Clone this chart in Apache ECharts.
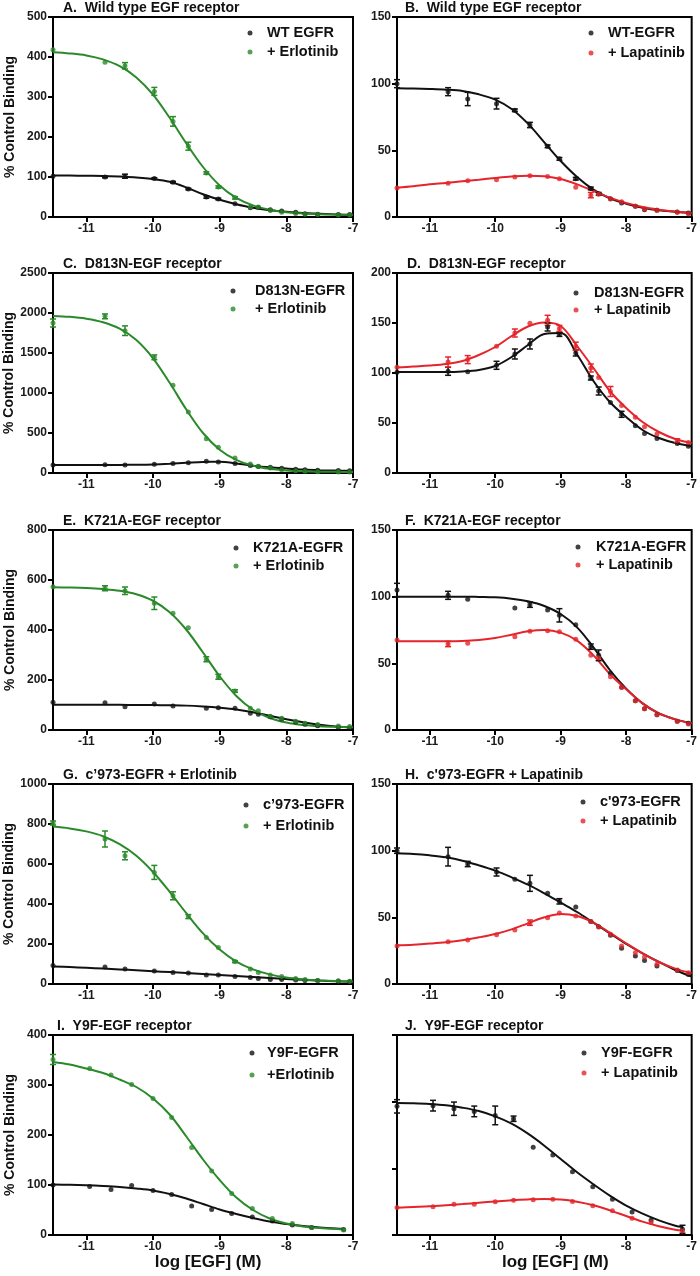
<!DOCTYPE html>
<html><head><meta charset="utf-8">
<script src="https://cdn.jsdelivr.net/npm/echarts@6/dist/echarts.min.js"></script>
<style>html,body{margin:0;padding:0;background:#fff}#c{width:700px;height:1276px}</style>
</head><body><div id="c"></div>
<script>
// ---------- DATA ----------
const X_TICKS = [-11, -10, -9, -8, -7];
const X_PTS = [-11.5, -10.72, -10.42, -9.98, -9.7, -9.47, -9.2, -9.02, -8.77, -8.54, -8.42, -8.24, -8.07, -7.86, -7.72, -7.53, -7.22, -7.05];
const X_PTS_Y9F = [-11.5, -10.95, -10.63, -10.32, -10.0, -9.72, -9.42, -9.12, -8.82, -8.51, -8.21, -7.91, -7.62, -7.14];
const X_FIT = [-11.5, -11.25, -11, -10.75, -10.5, -10.25, -10, -9.75, -9.5, -9.25, -9, -8.75, -8.5, -8.25, -8, -7.75, -7.5, -7.25, -7];
const X_FIT_Y9F = [-11.5, -11.25, -11, -10.75, -10.5, -10.25, -10, -9.75, -9.5, -9.25, -9, -8.75, -8.5, -8.25, -8, -7.75, -7.5, -7.25, -7.14];

const A_ctrl = [102,100,102,96,87,70,50,45,33,23,24,18,15,12,8,7,6,6];
const A_ctrlErr = [0,2,5,2,2,2,3,2,0,0,0,0,0,0,0,0,0,0];
const A_drug = [418,387,378,314,239,177,110,75,48,25,25,16,12,9,7,6,5,5];
const A_drugErr = [0,0,8,10,12,10,3,3,3,0,0,0,0,0,0,0,0,0];
const A_ctrlFit = [104,103.5,103,102.5,101,99,95,88,74,57,43,32,23,17,13,10,8,6,5];
const A_drugFit = [412,409,404,394,377,349,306,248,184,125,79,48,29,18,12,9,6.9,6,5.5];

const B_ctrl = [100,94,88.5,85,80,69,53,43.6,28.7,21.4,17.4,13.7,10.5,8,5.5,5,3.7,3];
const B_ctrlErr = [3,3,5,4,1,2,1,1,1,1,1,0,0,0,0,0,0,0];
const B_drug = [21.7,25.4,27.2,28,30,31,30.4,28.7,22.4,16.4,17,13.5,11.5,8,6,5,3.5,2.5];
const B_drugErr = [0,0,0,0,0,0,0,0,0,2,0,0,0,0,0,0,0,0];
const B_ctrlFit = [96.5,96.3,96,95.5,94.5,92,88,81,70,56,42,30,20.5,14,10,7,5,4,3];
const B_drugFit = [22,23,24.5,25.5,26.8,28,29.3,30.4,31,30.5,28.5,24.5,19.5,14.5,10.5,7.5,5.5,4,3];

const C_ctrl = [101,102,101,108,119,129,146,139,120,95,82,71,59,47,40,35,30,27];
const C_ctrlErr = [0,0,0,0,0,0,0,0,0,0,0,0,0,0,0,0,0,0];
const C_drug = [1875,1958,1779,1446,1096,762,429,321,187,112,83,62,42,29,21,17,12,12];
const C_drugErr = [50,30,60,30,0,0,0,0,0,0,0,0,0,0,0,0,0,0];
const C_ctrlFit = [101,101,101,101,101.5,103,107,116,128,139,140,118.5,92,71,56,43,35,30,27];
const C_drugFit = [1963,1952,1929,1885,1804,1661,1434,1128,793,500,291,163,91,52,32,22,17,14.5,13];

const D_ctrl = [100.7,101.7,101.3,107.7,119,129,146,138.6,120,95,82,70.5,58.7,47.3,39.6,34.6,29.5,26.8];
const D_ctrlErr = [0,4,0,4,5,5,4,2,3,2,4,0,3,0,0,0,0,0];
const D_drug = [105.7,111,113.4,126.8,140,149.7,152.7,144.6,126.8,105,95.6,81.5,67.4,55.7,46.3,39,32.2,30.5];
const D_drugErr = [0,5,4,0,4,0,5,3,4,4,0,5,0,0,0,0,2,0];
const D_ctrlFit = [101,101,101,101,101.5,103,107,116,128,139,140,118.5,92,71,56,43,35,30,27];
const D_drugFit = [105.5,106.5,107.5,109,112,118,126,137,146.5,150.5,147,127,105,82,65,51,41,34,30];

const E_ctrl = [111,109,93,104,96,null,87,89,87,67,63,53,44,32,23,17,11,8];
const E_ctrlErr = [0,0,0,0,0,0,0,0,0,0,0,0,0,0,0,0,0,0];
const E_drug = [573,567,557,507,467,409,283,213,156,87,77,55,47,35,27,22,16,14];
const E_drugErr = [0,10,15,25,0,0,10,10,5,0,0,0,0,0,0,0,0,0];
const E_ctrlFit = [101,101,101,100.8,100.6,100.3,99.8,99,97.5,94,89,82,71,57,43,31,21,14,10];
const E_drugFit = [571,570,568,564,557,543,517,471,401,310,215,136,81,48,30,20,15,12.5,11];

const F_ctrl = [105,101,98,null,91.5,94,90,86,79,62.5,56,42.5,32,22,16,11.5,6.5,5];
const F_ctrlErr = [5,3,0,0,0,2,0,5,0,2,4,0,0,0,0,0,0,0];
const F_drug = [67.5,64.5,65,null,70,74,74.5,73.7,68,56,54,40,32,22,16,11.5,6.5,4.5];
const F_drugErr = [0,2,0,0,0,0,0,0,0,0,0,0,0,0,0,0,0,0];
const F_ctrlFit = [100,100,100,100,100,99.8,99.5,98.5,96.5,93,87,77,62,45,31,20,12.5,8,5];
const F_drugFit = [66.5,66.5,66.5,66.5,66.7,67.5,69,71.5,74,75,73,67,56,42,30.5,20,12.5,8,5];

const G_ctrl = [92,85,75,65,57,55,45,45,37,32,28,23,23,20,18,17,15,12];
const G_ctrlErr = [0,0,0,0,0,0,0,0,0,0,0,0,0,0,0,0,0,0];
const G_drug = [805,725,641,558,441,337,232,182,112,75,58,45,37,28,22,18,15,14];
const G_drugErr = [10,40,20,35,20,10,0,0,5,0,0,0,0,0,0,0,0,0];
const G_ctrlFit = [88,84.5,81,77,73,68.5,64,59.5,55,50,45,40,35,30,25,21,17,14,11];
const G_drugFit = [787,778,763,739,699,641,560,461,354,253,172,112,73,48,32,23,17.6,14.4,12.6];

const H_ctrl = [100,95.5,90,84,78.5,75.5,68,62,57.7,46.8,43,36.5,26.8,21,17.7,13.5,10.2,7.2];
const H_ctrlErr = [2,7,2,3,0,6,0,2,0,0,0,0,0,0,0,0,0,0];
const H_drug = [28.5,31.7,33,37,40.5,46,49.7,53.3,51,46.8,42.8,37.3,28.5,23.5,20.2,14.8,10.5,8.5];
const H_drugErr = [0,0,0,0,0,2,0,0,0,0,0,0,0,0,0,0,0,0];
const H_ctrlFit = [98,97.5,96.5,95,92.5,89,85,80,74.5,68,61,54,46,38,30,23,16.5,10.5,5.5];
const H_drugFit = [29,29.5,30.3,31.3,32.8,35,37.5,41,45.5,50,52.5,51,46,38.5,30.5,23,16.5,11.5,8];

const I_ctrl = [100,97,91,99,89,81,58,51,43,36,28,20,15,11];
const I_ctrlErr = [0,0,0,0,0,0,0,0,0,0,0,0,0,0];
const I_drug = [351,333,320,301,273,235,175,128,83,53,33,23,15,10];
const I_drugErr = [10,0,0,0,0,0,0,0,0,0,0,0,0,0];
const I_ctrlFit = [101,100.5,99.5,98,96,93,89,82,73,62,51,42,34,27,22,18,15,13,12.5];
const I_drugFit = [346,341,333,324,311,296,273,241,197,151,110,75,50,33,23,17,14,12,11.5];

const J_ctrl = [96.5,97,94.7,92.7,89.7,87.2,65.8,60,47.5,36.2,26.9,17.3,11,4.3];
const J_ctrlErr = [5,4,5,4,7,2,0,0,0,0,0,0,0,3];
const J_drug = [20.6,21.1,23.1,23.1,24.9,26.1,26.4,26.9,25.1,21.9,18.1,12.6,9.3,3];
const J_drugErr = [0,0,0,0,0,0,0,0,0,0,0,0,0,0];
const J_ctrlFit = [99,98.8,98.3,97.3,95.5,93,89,83.5,76,67,57,47,38,29.5,22,16,11,7,6];
const J_drugFit = [20.5,21,21.5,22.3,23.2,24.2,25.2,26.1,26.7,27,26.6,25,22.3,18.5,14.2,10,6.6,4,3.3];

// ---------- STYLE / LAYOUT ----------
const GREEN = '#2a8a2a', RED = '#e5252b', BLACK = '#111111';
const FONT = '"Liberation Sans", Arial, Helvetica, sans-serif';
const Y_NAME = '% Control Binding';
const X_NAME = 'log [EGF] (M)';
const TOPS = [17, 273, 530, 784, 1035];

// leg: [left edge of dot, top, itemWidth, itemGap]
const panels = [
  {title:'A.  Wild type EGF receptor', col:0,row:0, yMax:500,yInt:100, ctrl:'WT EGFR', drug:'+ Erlotinib', color:GREEN, xp:X_PTS, xf:X_FIT, c:A_ctrl, ce:A_ctrlErr, d:A_drug, de:A_drugErr, cf:A_ctrlFit, df:A_drugFit, leg:[247.5,25,24,3], tx:63},
  {title:'B.  Wild type EGF receptor', col:1,row:0, yMax:150,yInt:50, ctrl:'WT-EGFR', drug:'+ Lapatinib', color:RED, xp:X_PTS, xf:X_FIT, c:B_ctrl, ce:B_ctrlErr, d:B_drug, de:B_drugErr, cf:B_ctrlFit, df:B_drugFit, leg:[588.5,25,24,4], tx:405},
  {title:'C.  D813N-EGF receptor', col:0,row:1, yMax:2500,yInt:500, ctrl:'D813N-EGFR', drug:'+ Erlotinib', color:GREEN, xp:X_PTS, xf:X_FIT, c:C_ctrl, ce:C_ctrlErr, d:C_drug, de:C_drugErr, cf:C_ctrlFit, df:C_drugFit, leg:[230.5,283,34,2], tx:63},
  {title:'D.  D813N-EGF receptor', col:1,row:1, yMax:200,yInt:50, ctrl:'D813N-EGFR', drug:'+ Lapatinib', color:RED, xp:X_PTS, xf:X_FIT, c:D_ctrl, ce:D_ctrlErr, d:D_drug, de:D_drugErr, cf:D_ctrlFit, df:D_drugFit, leg:[573.5,285,26,1], tx:407},
  {title:'E.  K721A-EGF receptor', col:0,row:2, yMax:800,yInt:200, ctrl:'K721A-EGFR', drug:'+ Erlotinib', color:GREEN, xp:X_PTS, xf:X_FIT, c:E_ctrl, ce:E_ctrlErr, d:E_drug, de:E_drugErr, cf:E_ctrlFit, df:E_drugFit, leg:[233.5,540,24,2], tx:63},
  {title:'F.  K721A-EGF receptor', col:1,row:2, yMax:150,yInt:50, ctrl:'K721A-EGFR', drug:'+ Lapatinib', color:RED, xp:X_PTS, xf:X_FIT, c:F_ctrl, ce:F_ctrlErr, d:F_drug, de:F_drugErr, cf:F_ctrlFit, df:F_drugFit, leg:[575.5,539,26,2], tx:405},
  {title:'G.  c\u2019973-EGFR + Erlotinib', col:0,row:3, yMax:1000,yInt:200, ctrl:'c\u2019973-EGFR', drug:'+ Erlotinib', color:GREEN, xp:X_PTS, xf:X_FIT, c:G_ctrl, ce:G_ctrlErr, d:G_drug, de:G_drugErr, cf:G_ctrlFit, df:G_drugFit, leg:[243.5,797,24,5], tx:63},
  {title:'H.  c\'973-EGFR + Lapatinib', col:1,row:3, yMax:150,yInt:50, ctrl:'c\'973-EGFR', drug:'+ Lapatinib', color:RED, xp:X_PTS, xf:X_FIT, c:H_ctrl, ce:H_ctrlErr, d:H_drug, de:H_drugErr, cf:H_ctrlFit, df:H_drugFit, leg:[580.5,794,24,3], tx:405},
  {title:'I.  Y9F-EGF receptor', col:0,row:4, yMax:400,yInt:100, ctrl:'Y9F-EGFR', drug:'+Erlotinib', color:GREEN, xp:X_PTS_Y9F, xf:X_FIT_Y9F, c:I_ctrl, ce:I_ctrlErr, d:I_drug, de:I_drugErr, cf:I_ctrlFit, df:I_drugFit, leg:[249.5,1045,20,6], tx:57},
  {title:'J.  Y9F-EGF receptor', col:1,row:4, yMax:150,yInt:50, ctrl:'Y9F-EGFR ', drug:'+ Lapatinib', color:RED, xp:X_PTS_Y9F, xf:X_FIT_Y9F, c:J_ctrl, ce:J_ctrlErr, d:J_drug, de:J_drugErr, cf:J_ctrlFit, df:J_drugFit, leg:[581.5,1045,24,4], tx:405, hideY:true}
];

function errRender(params, api) {
  const x = api.value(0), y = api.value(1), e = api.value(2);
  const hi = api.coord([x, y + e]), lo = api.coord([x, y - e]);
  const style = { stroke: api.visual('color'), lineWidth: 1.5 };
  const h = 3;
  return { type: 'group', children: [
    { type: 'line', shape: { x1: hi[0], y1: hi[1], x2: lo[0], y2: lo[1] }, style },
    { type: 'line', shape: { x1: hi[0]-h, y1: hi[1], x2: hi[0]+h, y2: hi[1] }, style },
    { type: 'line', shape: { x1: lo[0]-h, y1: lo[1], x2: lo[0]+h, y2: lo[1] }, style }
  ]};
}

const grid = [], xAxis = [], yAxis = [], series = [], title = [], legend = [];
const labelStyle = { fontFamily: FONT, fontWeight: 'bold', fontSize: 12, color: '#1a1a1a' };
const plain = (v) => String(v);

panels.forEach((p, i) => {
  const left = p.col === 0 ? 53 : 397;
  const width = p.col === 0 ? 300 : 299;
  const top = TOPS[p.row];
  grid.push({ left, top, width, height: 200, show: true, borderColor: '#000', borderWidth: 2, backgroundColor: 'transparent' });
  const isBottom = p.row === 4;
  xAxis.push({
    type: 'value', gridIndex: i, min: -11.5, max: -7,
    axisLine: { lineStyle: { color: '#000', width: 2 } },
    axisTick: { customValues: X_TICKS, length: 5, lineStyle: { color: '#000', width: 2 } },
    axisLabel: Object.assign({ customValues: X_TICKS, margin: 6, formatter: plain }, labelStyle),
    splitLine: { show: false },
    name: isBottom ? X_NAME : '', nameLocation: 'middle', nameGap: 17,
    nameTextStyle: { fontFamily: FONT, fontWeight: 'bold', fontSize: 17, color: '#111', verticalAlign: 'top', padding: [0, 0, 0, p.col === 0 ? 10 : 22] }
  });
  yAxis.push({
    type: 'value', gridIndex: i, min: 0, max: p.yMax, interval: p.yInt,
    axisLine: { show: true, lineStyle: { color: '#000', width: 2 } },
    axisTick: { show: true, length: 5, lineStyle: { color: '#000', width: 2 } },
    axisLabel: Object.assign({ show: !p.hideY, margin: 6, formatter: plain }, labelStyle),
    splitLine: { show: false },
    name: p.col === 0 ? Y_NAME : '', nameLocation: 'middle', nameGap: 36,
    nameTextStyle: { fontFamily: FONT, fontWeight: 'bold', fontSize: 14, color: '#111' }
  });
  title.push({ text: p.title, left: p.tx, top: Math.max(0, top - 16), padding: 0,
    textStyle: { fontFamily: FONT, fontWeight: 'bold', fontSize: 14, color: '#111' } });
  legend.push({ left: p.leg[0], top: p.leg[1], orient: 'vertical', icon: 'circle',
    itemWidth: p.leg[2], itemHeight: 5, itemGap: p.leg[3], selectedMode: false, padding: 0,
    data: [p.ctrl, p.drug],
    textStyle: { fontFamily: FONT, fontWeight: 'bold', fontSize: 14.5, color: '#111', lineHeight: 16 } });

  const fit = (ys) => p.xf.map((x, k) => [x, ys[k]]);
  const pts = (ys) => p.xp.map((x, k) => [x, ys[k]]).filter(v => v[1] !== null);
  const errs = (ys, es) => p.xp.map((x, k) => [x, ys[k], es[k]]).filter(v => v[1] !== null && v[2] > 0);
  const base = { xAxisIndex: i, yAxisIndex: i, silent: true, animation: false };

  series.push(Object.assign({ type: 'line', data: fit(p.cf), showSymbol: false, smooth: 0.35,
    lineStyle: { color: BLACK, width: 2 }, z: 2 }, base));
  series.push(Object.assign({ type: 'line', data: fit(p.df), showSymbol: false, smooth: 0.35,
    lineStyle: { color: p.color, width: 2 }, z: 2 }, base));
  series.push(Object.assign({ type: 'custom', renderItem: errRender, data: errs(p.c, p.ce), clip: false,
    itemStyle: { color: BLACK }, encode: { x: 0, y: 1 }, z: 3 }, base));
  series.push(Object.assign({ type: 'custom', renderItem: errRender, data: errs(p.d, p.de), clip: false,
    itemStyle: { color: p.color }, encode: { x: 0, y: 1 }, z: 3 }, base));
  series.push(Object.assign({ type: 'scatter', name: p.ctrl, data: pts(p.c), symbol: 'circle', symbolSize: 5,
    itemStyle: { color: BLACK }, clip: false, z: 4 }, base));
  series.push(Object.assign({ type: 'scatter', name: p.drug, data: pts(p.d), symbol: 'circle', symbolSize: 5,
    itemStyle: { color: p.color }, clip: false, z: 4 }, base));
});

const chart = echarts.init(document.getElementById('c'), null, { renderer: 'canvas' });
chart.setOption({ animation: false, backgroundColor: '#fff', title, legend, grid, xAxis, yAxis, series });
</script>
</body></html>
